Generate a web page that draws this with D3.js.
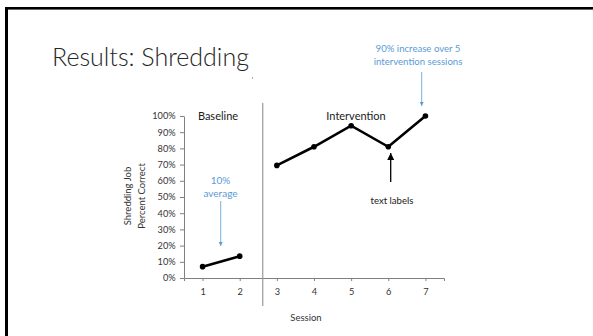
<!DOCTYPE html>
<html>
<head>
<meta charset="utf-8">
<script src="https://cdn.jsdelivr.net/npm/d3@7"></script>
<style>
  html, body { margin: 0; padding: 0; background: #fff; }
  svg { display: block; }
  text { font-family: Lato, "Open Sans", sans-serif; }
</style>
</head>
<body>
<script>
// Session-by-session percent correct on the shredding job
const sessions = [1, 2, 3, 4, 5, 6, 7];
const baselineSessions = [1, 2];
const baselineValues = [0.07, 0.135];
const interventionSessions = [3, 4, 5, 6, 7];
const interventionValues = [0.695, 0.81, 0.94, 0.81, 1.0];
const yTicks = [0, 0.1, 0.2, 0.3, 0.4, 0.5, 0.6, 0.7, 0.8, 0.9, 1.0];
const phaseChangeAt = 2.62;
const phaseLabels = ["Baseline", "Intervention"];

const W = 593, H = 336;
const svg = d3.select("body").append("svg").attr("width", W).attr("height", H);

// slide frame (top and left edges)
svg.append("rect").attr("x", 5).attr("y", 7).attr("width", W).attr("height", 2.6).attr("fill", "#000");
svg.append("rect").attr("x", 5).attr("y", 7).attr("width", 3).attr("height", H).attr("fill", "#000");

svg.append("text").attr("x", 52).attr("y", 66)
  .attr("font-size", 25).attr("font-weight", 300).attr("fill", "#262626")
  .text("Results: Shredding");

const x = d3.scaleLinear().domain([0.5, 7.5]).range([184, 444]);
const y = d3.scaleLinear().domain([0, 1]).range([278, 116]);

const axisColor = "#333";

const gx = svg.append("g").attr("transform", `translate(0,${y(0)})`)
  .call(d3.axisBottom(x).tickValues(sessions).tickFormat(d3.format("d")).tickSize(3).tickSizeOuter(3));
const gy = svg.append("g").attr("transform", `translate(${x(0.5)},0)`)
  .call(d3.axisLeft(y).tickValues(yTicks).tickFormat(d3.format(".0%")).tickSize(4).tickSizeOuter(0));

[gx, gy].forEach(g => {
  g.selectAll("path, line").attr("stroke", "#7f7f7f").attr("stroke-width", 1);
  g.selectAll("text").attr("fill", axisColor).attr("font-family", "Lato, sans-serif").attr("font-size", 9.2);
});
gx.selectAll("text").attr("dy", "1.2em");
gy.selectAll("text").attr("dx", "-0.15em");

// phase change line
svg.append("line")
  .attr("x1", x(phaseChangeAt)).attr("x2", x(phaseChangeAt))
  .attr("y1", 103).attr("y2", 306)
  .attr("stroke", "#9a9a9a").attr("stroke-width", 1.2);

const line = d3.line().x(d => x(d[0])).y(d => y(d[1]));
const phases = [
  d3.zip(baselineSessions, baselineValues),
  d3.zip(interventionSessions, interventionValues)
];
phases.forEach(pts => {
  svg.append("path").datum(pts).attr("d", line)
    .attr("fill", "none").attr("stroke", "#000").attr("stroke-width", 2.6)
    .attr("stroke-linejoin", "miter");
  svg.selectAll(null).data(pts).enter().append("circle")
    .attr("cx", d => x(d[0])).attr("cy", d => y(d[1])).attr("r", 2.8).attr("fill", "#000");
});

// phase labels
svg.append("text").attr("x", 218).attr("y", 120).attr("text-anchor", "middle")
  .attr("font-size", 11).attr("fill", "#1a1a1a").text(phaseLabels[0]);
svg.append("text").attr("x", 356).attr("y", 120).attr("text-anchor", "middle")
  .attr("font-size", 11).attr("fill", "#1a1a1a").text(phaseLabels[1]);

// axis titles
svg.append("text").attr("x", 306).attr("y", 321).attr("text-anchor", "middle")
  .attr("font-size", 9.5).attr("fill", axisColor).text("Session");
const yt = svg.append("text").attr("transform", "translate(0,196) rotate(-90)")
  .attr("text-anchor", "middle").attr("font-size", 9.5).attr("fill", axisColor);
yt.append("tspan").attr("x", 0).attr("y", 131).text("Shredding Job");
yt.append("tspan").attr("x", 0).attr("y", 145).text("Percent Correct");

// arrowheads
const defs = svg.append("defs");
function marker(id, color, w, h) {
  defs.append("marker").attr("id", id).attr("viewBox", "0 0 10 10")
    .attr("refX", 10).attr("refY", 5).attr("markerUnits", "userSpaceOnUse")
    .attr("markerWidth", w).attr("markerHeight", h).attr("orient", "auto")
    .append("path").attr("d", "M0,0L10,5L0,10Z").attr("fill", color);
}
const blue = "#5b9bd5";
marker("ab", blue, 4, 4);
marker("ak", "#000", 8, 7);

// annotations
const ann = [
  { lines: ["10%", "average"], cx: 220.5, y0: 183.5, color: blue, size: 10 },
  { lines: ["90% increase over 5", "intervention sessions"], cx: 418, y0: 51.5, color: blue, size: 9.6 },
  { lines: ["text labels"], cx: 392, y0: 204, color: "#1a1a1a", size: 9.6 }
];
ann.forEach(a => {
  a.lines.forEach((t, i) => {
    svg.append("text").attr("x", a.cx).attr("y", a.y0 + i * 13).attr("text-anchor", "middle")
      .attr("font-size", a.size).attr("fill", a.color).text(t);
  });
});
svg.append("line").attr("x1", 220.7).attr("x2", 220.7).attr("y1", 201).attr("y2", 246)
  .attr("stroke", blue).attr("stroke-width", 0.8).attr("marker-end", "url(#ab)");
svg.append("line").attr("x1", 421.7).attr("x2", 421.7).attr("y1", 72).attr("y2", 106)
  .attr("stroke", blue).attr("stroke-width", 0.8).attr("marker-end", "url(#ab)");
svg.append("line").attr("x1", 390.7).attr("x2", 390.7).attr("y1", 182).attr("y2", 153)
  .attr("stroke", "#000").attr("stroke-width", 1.3).attr("marker-end", "url(#ak)");

// small stray mark under the title
svg.append("rect").attr("x", 252).attr("y", 77).attr("width", 1).attr("height", 2).attr("fill", "#aaa");
</script>
</body>
</html>
